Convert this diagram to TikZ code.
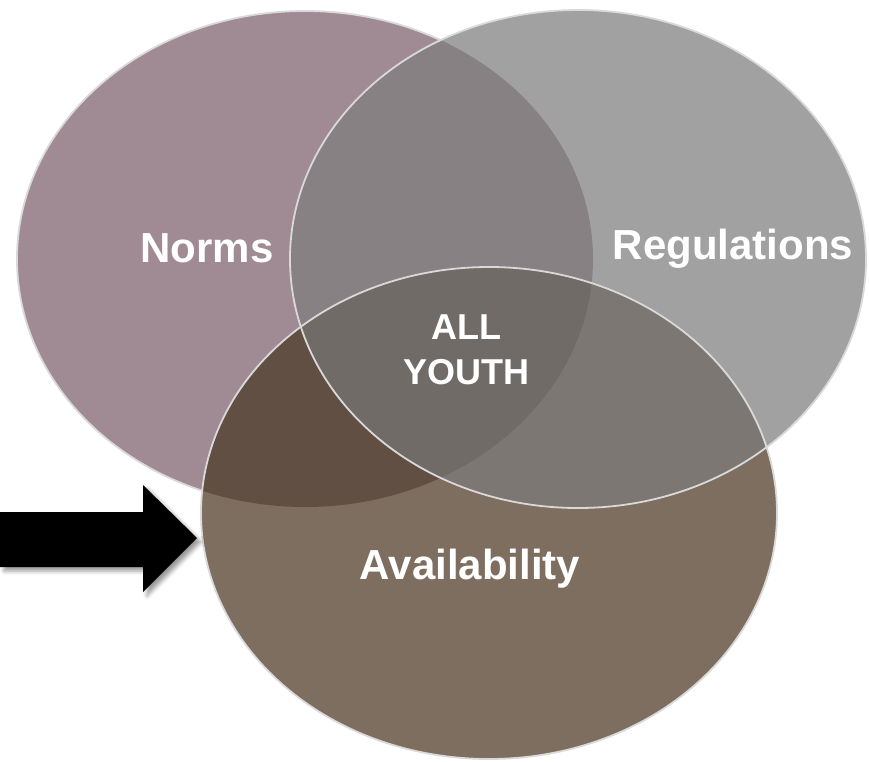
\documentclass[tikz,border=0pt]{standalone}
\usepackage{fontspec}
\setmainfont{Liberation Sans}
\usetikzlibrary{shadows.blur}
\definecolor{cN}{HTML}{A08B94}
\definecolor{cR}{HTML}{A1A1A1}
\definecolor{cA}{HTML}{7E6E60}
\definecolor{cNR}{HTML}{878183}
\definecolor{cNA}{HTML}{624F43}
\definecolor{cRA}{HTML}{7D7773}
\definecolor{cNRA}{HTML}{716B67}
\definecolor{rim}{HTML}{D9D9D9}
\tikzset{
  rimline/.style={draw=rim, line width=1.8pt},
  lbl/.style={text=white, font=\bfseries\fontsize{42}{46}\selectfont, inner sep=0pt, align=center},
  lblsmall/.style={text=white, font=\bfseries\fontsize{36}{45}\selectfont, inner sep=0pt, align=center},
}
\newcommand{\normsE}{(305,-259) ellipse [x radius=288, y radius=248]}
\newcommand{\regsE}{(578,-259) ellipse [x radius=288, y radius=249]}
\newcommand{\availE}{(489,-513) ellipse [x radius=288, y radius=246]}
\begin{document}
\begin{tikzpicture}[x=1pt,y=1pt]
\useasboundingbox (0,0) rectangle (869,-761);
% Norms
\fill[cN] \normsE;
\draw[rimline] \normsE;
% Regulations
\fill[cR] \regsE;
\begin{scope}
  \clip \normsE;
  \fill[cNR] \regsE;
\end{scope}
% Availability
\fill[cA] \availE;
\begin{scope}
  \clip \availE;
  \fill[cNA] \normsE;
  \fill[cRA] \regsE;
  \begin{scope}
    \clip \normsE;
    \fill[cNRA] \regsE;
  \end{scope}
\end{scope}
\draw[rimline] \availE;
\draw[rimline] \regsE;
% arrow
\coordinate (tail1) at (0,-512);
\node[inner sep=0pt] (tip) at (197,-538) {};
\fill[black, blur shadow={shadow xshift=4pt, shadow yshift=-4pt, shadow blur radius=4pt, shadow opacity=40}]
  (tail1) -- (143,-512) -- (143,-485) -- (tip.center) -- (143,-592) -- (143,-567) -- (0,-567) -- cycle;
% labels
\node[lbl] (norms) at (207,-248.5) {Norms};
\node[lbl] (regs) at (733,-248.5) {Regulations};
\node[lbl] (avail) at (470,-568.5) {Availability};
\node[lblsmall] (all) at (466,-349.5) {ALL\\YOUTH};
\end{tikzpicture}
\end{document}
